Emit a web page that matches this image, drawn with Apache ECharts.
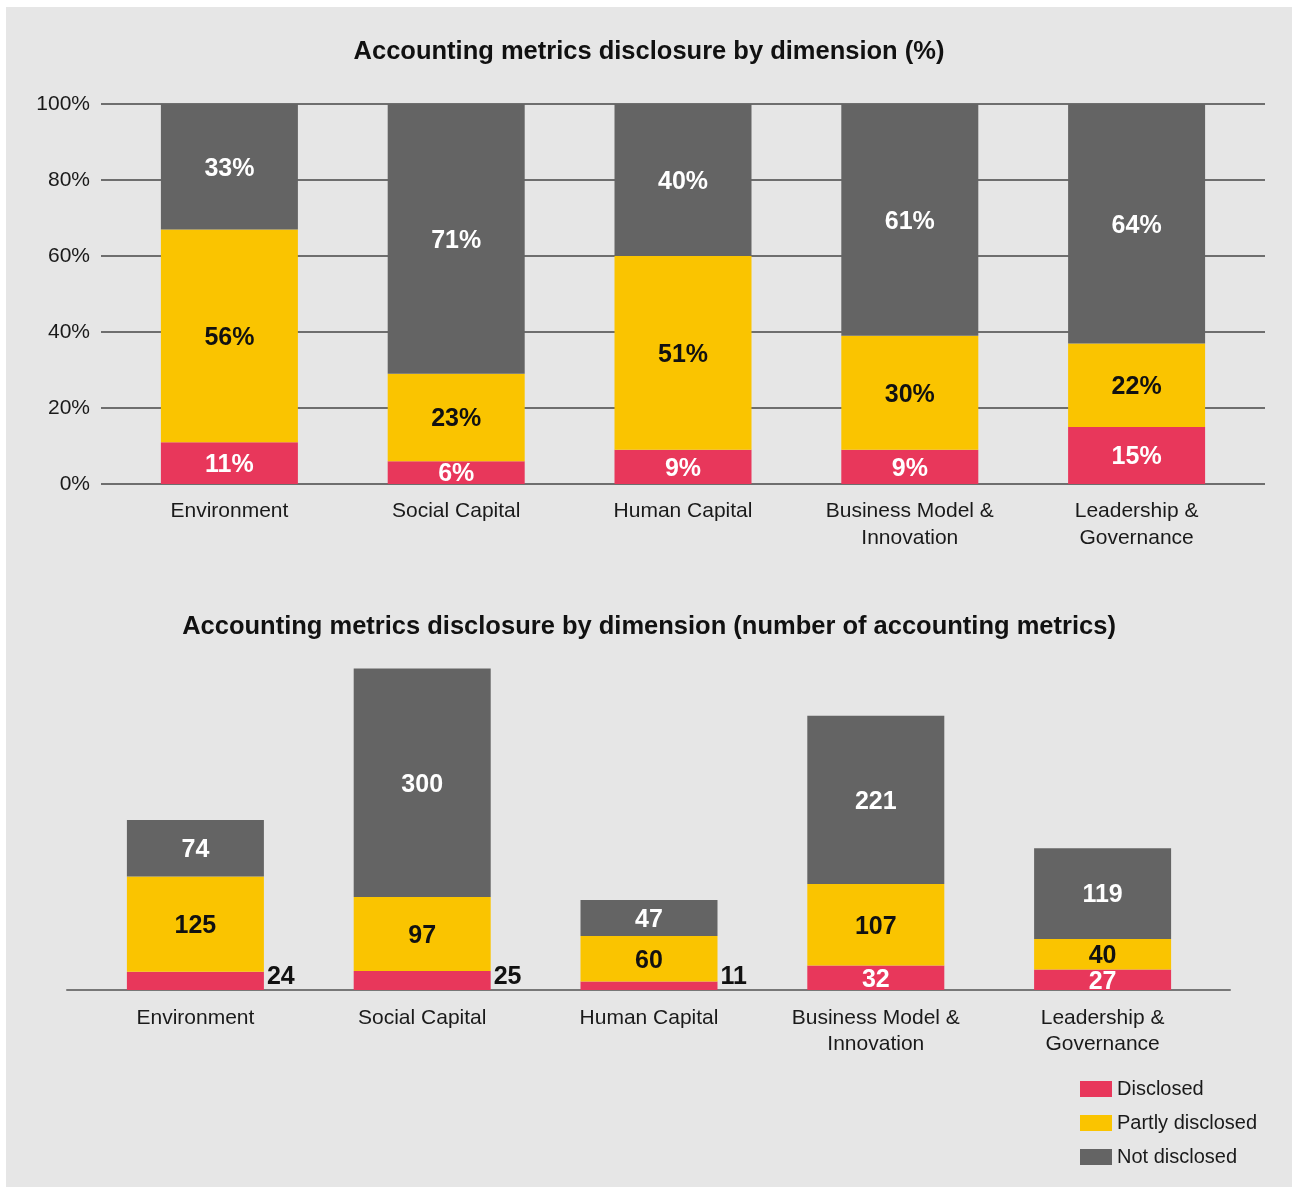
<!DOCTYPE html>
<html>
<head>
<meta charset="utf-8">
<script src="https://cdn.jsdelivr.net/npm/echarts@6/dist/echarts.min.js"></script>
<style>
  html, body { margin: 0; padding: 0; background: #fff; }
  #chartBox {
    position: absolute;
    left: 6px;
    top: 7px;
    width: 1286px;
    height: 1180px;
    background: #e6e6e6;
  }
</style>
</head>
<body>
<div id="chartBox"></div>
<script>
// dimensions
const categories = ['Environment', 'Social Capital', 'Human Capital', 'Business Model &\nInnovation', 'Leadership &\nGovernance']
const seriesNames = ['Disclosed', 'Partly disclosed', 'Not disclosed']

// percentage chart
const pctDisclosed = [11, 6, 9, 9, 15]
const pctPartly = [56, 23, 51, 30, 22]
const pctNot = [33, 71, 40, 61, 64]

// number of accounting metrics
const cntDisclosed = [24, 25, 11, 32, 27]
const cntPartly = [125, 97, 60, 107, 40]
const cntNot = [74, 300, 47, 221, 119]

const colors = ['#e8375b', '#fac400', '#646464']
const font = "'Liberation Sans', Arial, sans-serif"

const labelWhite = { show: true, position: 'inside', offset: [0, 2], color: '#fff', fontWeight: 'bold', fontSize: 25, fontFamily: font }
const labelDark = { show: true, position: 'inside', offset: [0, 2], color: '#111', fontWeight: 'bold', fontSize: 25, fontFamily: font }
// small counts sit next to the bar, bottom aligned
const labelOutside = { position: ['100%', '100%'], align: 'left', verticalAlign: 'bottom', offset: [3, 0], color: '#111' }

function pctSeries (name, data, color, label) {
  return {
    name: name,
    type: 'bar',
    stack: 'pct',
    xAxisIndex: 1,
    yAxisIndex: 1,
    barWidth: 137,
    itemStyle: { color: color },
    label: Object.assign({}, label, { formatter: '{c}%' }),
    emphasis: { disabled: true },
    data: data
  }
}

function cntSeries (name, data, color, label, smallOutside) {
  return {
    name: name,
    type: 'bar',
    stack: 'cnt',
    xAxisIndex: 3,
    yAxisIndex: 3,
    barWidth: 137,
    itemStyle: { color: color },
    label: label,
    emphasis: { disabled: true },
    data: data.map(v => smallOutside && v < 26 ? { value: v, label: labelOutside } : v)
  }
}

const axisText = { fontSize: 21, color: '#1a1a1a', fontFamily: font }

let myChart = echarts.init(document.getElementById('chartBox'))
myChart.setOption({
  animation: false,
  textStyle: { fontFamily: font },
  title: [
    {
      text: 'Accounting metrics disclosure by dimension (%)',
      left: 'center',
      top: 27,
      textStyle: { fontSize: 25.5, fontWeight: 'bold', color: '#111', fontFamily: font }
    },
    {
      text: 'Accounting metrics disclosure by dimension (number of accounting metrics)',
      left: 'center',
      top: 602,
      textStyle: { fontSize: 25.5, fontWeight: 'bold', color: '#111', fontFamily: font }
    }
  ],
  legend: {
    data: seriesNames,
    orient: 'vertical',
    left: 1074,
    top: 1072,
    padding: 0,
    itemWidth: 32,
    itemHeight: 16,
    itemGap: 14,
    icon: 'rect',
    selectedMode: false,
    textStyle: { fontSize: 20, color: '#1a1a1a', fontFamily: font }
  },
  grid: [
    // top: lines + y labels, then bars
    { left: 95, top: 97, width: 1164, height: 380, outerBoundsMode: 'none' },
    { left: 110, top: 97, width: 1134, height: 380, outerBoundsMode: 'none' },
    // bottom: baseline, then bars
    { left: 61, top: 602, width: 1163, height: 381, outerBoundsMode: 'none' },
    { left: 76, top: 602, width: 1134, height: 381, outerBoundsMode: 'none' }
  ],
  xAxis: [
    { gridIndex: 0, type: 'category', data: categories, show: false },
    {
      gridIndex: 1,
      type: 'category',
      data: categories,
      axisLine: { show: false },
      axisTick: { show: false },
      axisLabel: Object.assign({ margin: 14, lineHeight: 27, interval: 0 }, axisText)
    },
    {
      gridIndex: 2,
      type: 'category',
      data: categories,
      axisLine: { show: true, lineStyle: { color: '#777', width: 2 } },
      axisTick: { show: false },
      axisLabel: { show: false }
    },
    {
      gridIndex: 3,
      type: 'category',
      data: categories,
      axisLine: { show: false },
      axisTick: { show: false },
      axisLabel: Object.assign({ margin: 15, lineHeight: 26, interval: 0 }, axisText)
    }
  ],
  yAxis: [
    {
      gridIndex: 0,
      type: 'value',
      min: 0,
      max: 100,
      interval: 20,
      axisLine: { show: false },
      axisTick: { show: false },
      splitLine: { show: true, lineStyle: { color: '#6e6e6e', width: 2 } },
      axisLabel: Object.assign({ margin: 11, padding: [4, 0, 0, 0], formatter: '{value}%' }, axisText)
    },
    { gridIndex: 1, type: 'value', min: 0, max: 100, show: false, splitLine: { show: false } },
    { gridIndex: 2, type: 'value', min: 0, max: 500, show: false, splitLine: { show: false } },
    { gridIndex: 3, type: 'value', min: 0, max: 500, show: false, splitLine: { show: false } }
  ],
  series: [
    pctSeries(seriesNames[0], pctDisclosed, colors[0], labelWhite),
    pctSeries(seriesNames[1], pctPartly, colors[1], labelDark),
    pctSeries(seriesNames[2], pctNot, colors[2], labelWhite),
    cntSeries(seriesNames[0], cntDisclosed, colors[0], labelWhite, true),
    cntSeries(seriesNames[1], cntPartly, colors[1], labelDark, false),
    cntSeries(seriesNames[2], cntNot, colors[2], labelWhite, false)
  ]
})
</script>
</body>
</html>
